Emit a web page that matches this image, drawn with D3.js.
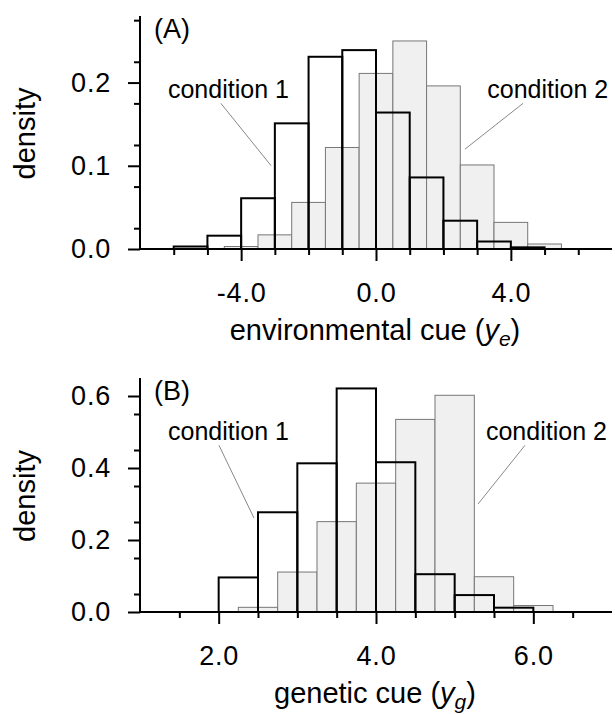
<!DOCTYPE html>
<html lang="en">
<head>
    <meta charset="UTF-8">
    <title>Cue histograms</title>
    <script src="https://d3js.org/d3.v7.min.js"></script>
    <style>
        body { margin: 0; background: #fff; }
        svg { font-family: "Liberation Sans", Arial, sans-serif; }
    </style>
</head>
<body>
    <div id="chart"></div>

    <script>
        // Panel A: environmental cue, bins of width 1
        var envEdges1 = [-6, -5, -4, -3, -2, -1, 0, 1, 2, 3, 4];
        var envCond1 = [0.003, 0.016, 0.061, 0.151, 0.231, 0.239, 0.164, 0.086, 0.034, 0.009, 0.002];
        var envEdges2 = [-4.5, -3.5, -2.5, -1.5, -0.5, 0.5, 1.5, 2.5, 3.5, 4.5];
        var envCond2 = [0.003, 0.017, 0.056, 0.122, 0.211, 0.250, 0.196, 0.101, 0.032, 0.006];
        var envXTicks = [-4, 0, 4];
        var envYTicks = [0, 0.1, 0.2];

        // Panel B: genetic cue, bins of width 0.5
        var genEdges1 = [2.0, 2.5, 3.0, 3.5, 4.0, 4.5, 5.0, 5.5];
        var genCond1 = [0.096, 0.277, 0.413, 0.621, 0.416, 0.105, 0.047, 0.012];
        var genEdges2 = [2.25, 2.75, 3.25, 3.75, 4.25, 4.75, 5.25, 5.75];
        var genCond2 = [0.013, 0.111, 0.251, 0.358, 0.535, 0.602, 0.098, 0.018];
        var genXTicks = [2, 4, 6];
        var genYTicks = [0, 0.2, 0.4, 0.6];

        var width = 615, height = 714;

        var svg = d3.select("#chart").append("svg")
            .attr("width", width)
            .attr("height", height);

        var panels = [
            {
                tag: "(A)", xLabel: "environmental cue (", sub: "e",
                xDomain: [-7, 7], yDomain: [0, 0.28],
                top: 16, bottom: 249, binWidth: 1, minorStep: 1, minorY: 0.05,
                edges1: envEdges1, vals1: envCond1, edges2: envEdges2, vals2: envCond2,
                xTicks: envXTicks, yTicks: envYTicks,
                notes: [
                    { text: "condition 1", tx: -6.17, ty: 0.182, x1: -4.6, y1: 0.175, x2: -3.11, y2: 0.10 },
                    { text: "condition 2", tx: 3.3, ty: 0.182, x1: 4.36, y1: 0.175, x2: 2.64, y2: 0.12 }
                ]
            },
            {
                tag: "(B)", xLabel: "genetic cue (", sub: "g",
                xDomain: [1, 7], yDomain: [0, 0.65],
                top: 378, bottom: 612, binWidth: 0.5, minorStep: 0.5, minorY: 0.1,
                edges1: genEdges1, vals1: genCond1, edges2: genEdges2, vals2: genCond2,
                xTicks: genXTicks, yTicks: genYTicks,
                notes: [
                    { text: "condition 1", tx: 1.356, ty: 0.478, x1: 2.004, y1: 0.463, x2: 2.449, y2: 0.261 },
                    { text: "condition 2", tx: 5.398, ty: 0.478, x1: 5.894, y1: 0.463, x2: 5.297, y2: 0.30 }
                ]
            }
        ];

        panels.forEach(function(p) {
            var x = d3.scaleLinear().domain(p.xDomain).range([140, 612]);
            var y = d3.scaleLinear().domain(p.yDomain).range([p.bottom, p.top]);
            var g = svg.append("g");

            // condition 2: light grey filled bars
            g.append("g").selectAll("rect")
                .data(p.vals2)
                .enter().append("rect")
                .attr("x", function(d, i) { return x(p.edges2[i]); })
                .attr("y", function(d) { return y(d); })
                .attr("width", function(d, i) { return x(p.edges2[i] + p.binWidth) - x(p.edges2[i]); })
                .attr("height", function(d) { return y(0) - y(d); })
                .attr("fill", "#f0f0f0")
                .attr("stroke", "#777")
                .attr("stroke-width", 1);

            // condition 1: black outlined bars
            g.append("g").selectAll("rect")
                .data(p.vals1)
                .enter().append("rect")
                .attr("x", function(d, i) { return x(p.edges1[i]); })
                .attr("y", function(d) { return y(d); })
                .attr("width", function(d, i) { return x(p.edges1[i] + p.binWidth) - x(p.edges1[i]); })
                .attr("height", function(d) { return y(0) - y(d); })
                .attr("fill", "none")
                .attr("stroke", "#000")
                .attr("stroke-width", 2);

            // minor ticks
            var xMinor = d3.range(p.xDomain[0] + p.minorStep, p.xDomain[1], p.minorStep)
                .filter(function(v) { return p.xTicks.indexOf(v) < 0; });
            var yMinor = d3.range(p.minorY / 2, p.yDomain[1], p.minorY)
                .filter(function(v) { return !p.yTicks.some(function(t) { return Math.abs(t - v) < 1e-6; }); });

            var xAxis = g.append("g")
                .attr("transform", "translate(0," + y(0) + ")")
                .call(d3.axisBottom(x).tickValues(p.xTicks).tickSize(12).tickPadding(22)
                    .tickFormat(function(d) { return d.toFixed(1); }));
            xAxis.select(".domain").attr("d", "M" + x.range()[0] + ",0H" + x.range()[1]);

            g.append("g")
                .attr("transform", "translate(0," + y(0) + ")")
                .call(d3.axisBottom(x).tickValues(xMinor).tickSize(6).tickFormat(""))
                .select(".domain").remove();

            var yAxis = g.append("g")
                .attr("transform", "translate(140,0)")
                .call(d3.axisLeft(y).tickValues(p.yTicks).tickSize(12).tickPadding(17)
                    .tickFormat(function(d) { return d.toFixed(1); }));
            yAxis.select(".domain").attr("d", "M0," + y.range()[0] + "V" + y.range()[1]);

            g.append("g")
                .attr("transform", "translate(140,0)")
                .call(d3.axisLeft(y).tickValues(yMinor).tickSize(6).tickFormat(""))
                .select(".domain").remove();

            g.selectAll(".domain, .tick line")
                .attr("stroke", "#000")
                .attr("stroke-width", 2);
            g.selectAll(".tick text")
                .attr("font-size", 27)
                .attr("letter-spacing", 0.8)
                .attr("font-family", "Liberation Sans, Arial, sans-serif")
                .attr("fill", "#000");

            // axis titles
            var xt = g.append("text")
                .attr("x", 375)
                .attr("y", p.bottom + 91)
                .attr("text-anchor", "middle")
                .attr("font-size", 29);
            xt.append("tspan").text(p.xLabel);
            xt.append("tspan").attr("font-style", "italic").text("y");
            xt.append("tspan").attr("font-style", "italic").attr("font-size", 21)
                .attr("dy", 6).text(p.sub);
            xt.append("tspan").attr("dy", -6).text(")");

            g.append("text")
                .attr("transform", "translate(35," + ((p.top + p.bottom) / 2 + 1) + ") rotate(-90)")
                .attr("text-anchor", "middle")
                .attr("font-size", 29)
                .text("density");

            g.append("text")
                .attr("x", 154)
                .attr("y", p.top + 22)
                .attr("font-size", 27)
                .text(p.tag);

            // annotations with leader lines
            p.notes.forEach(function(n) {
                g.append("line")
                    .attr("x1", x(n.x1)).attr("y1", y(n.y1))
                    .attr("x2", x(n.x2)).attr("y2", y(n.y2))
                    .attr("stroke", "#888")
                    .attr("stroke-width", 1);
                g.append("text")
                    .attr("x", x(n.tx))
                    .attr("y", y(n.ty))
                    .attr("font-size", 25)
                    .text(n.text);
            });
        });
    </script>
</body>
</html>
